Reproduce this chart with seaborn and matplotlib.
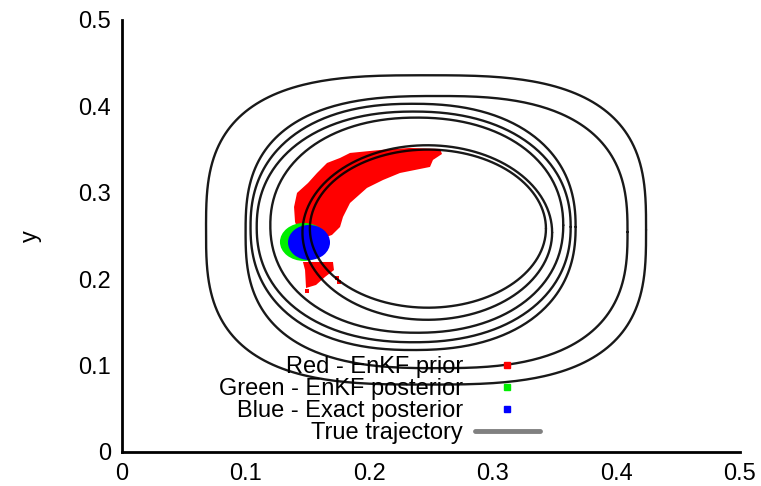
import numpy as np
import pandas as pd
import matplotlib
matplotlib.use("Agg")
import matplotlib.pyplot as plt
from matplotlib.patches import Ellipse
from matplotlib.lines import Line2D
import seaborn as sns

# ---- data ----
# true trajectory: one entry per loop (extents in data units, roundness power)
loop_left   = [0.068, 0.100, 0.104, 0.109, 0.120, 0.146, 0.152]
loop_right  = [0.424, 0.409, 0.367, 0.363, 0.357, 0.348, 0.343]
loop_top    = [0.436, 0.412, 0.403, 0.394, 0.387, 0.355, 0.350]
loop_bottom = [0.078, 0.097, 0.118, 0.127, 0.138, 0.153, 0.167]
loop_power  = [3.0, 2.7, 2.3, 2.2, 2.15, 2.0, 2.0]

# EnKF prior ensemble cloud (outline of the red crescent)
prior_x = [0.1400, 0.1392, 0.1416, 0.1505, 0.1578, 0.1659, 0.1764, 0.1845,
           0.2087, 0.2330, 0.2573, 0.2589, 0.2516, 0.2492, 0.2249, 0.2112,
           0.1982, 0.1845, 0.1788, 0.1764, 0.1699, 0.1586, 0.1440]
prior_y = [0.2662, 0.2836, 0.2998, 0.3113, 0.3229, 0.3345, 0.3403, 0.3461,
           0.3495, 0.3519, 0.3507, 0.3449, 0.3380, 0.3299, 0.3229, 0.3148,
           0.3056, 0.2882, 0.2720, 0.2604, 0.2512, 0.2454, 0.2512]
prior_tail_x = [0.1464, 0.1707, 0.1715, 0.1642, 0.1570, 0.1489, 0.1481]
prior_tail_y = [0.2199, 0.2199, 0.2106, 0.2025, 0.1933, 0.1898, 0.2106]
prior_speck_x = [0.1740, 0.1756, 0.1500]
prior_speck_y = [0.2014, 0.1968, 0.1860]

# EnKF posterior and exact posterior clouds (centre, width, height)
green_cloud = [0.1472, 0.2431, 0.0388, 0.0440]
blue_cloud  = [0.1513, 0.2425, 0.0340, 0.0405]

x_ticks = [0, 0.1, 0.2, 0.3, 0.4, 0.5]
y_ticks = [0, 0.1, 0.2, 0.3, 0.4, 0.5]
x_tick_labels = ["0", "0.1", "0.2", "0.3", "0.4", "0.5"]
y_tick_labels = ["0", "0.1", "0.2", "0.3", "0.4", "0.5"]
legend_labels = ["Red - EnKF prior", "Green - EnKF posterior",
                 "Blue - Exact posterior", "True trajectory"]

# ---- build trajectory table ----
t = np.linspace(0, 2 * np.pi, 400)
rows = []
for i, (l, r, tp, b, p) in enumerate(zip(loop_left, loop_right, loop_top,
                                          loop_bottom, loop_power)):
    cx, cy = (l + r) / 2, (tp + b) / 2
    rx, ry = (r - l) / 2, (tp - b) / 2
    c, s = np.cos(t), np.sin(t)
    xs = cx + rx * np.sign(c) * np.abs(c) ** (2.0 / p)
    ys = cy + ry * np.sign(s) * np.abs(s) ** (2.0 / p)
    rows.append(pd.DataFrame({"x": xs, "y": ys, "loop": i}))
traj = pd.concat(rows, ignore_index=True)

# ---- plot ----
sns.set_theme(style="white")
plt.rcParams["font.family"] = ["Liberation Sans", "DejaVu Sans"]
plt.rcParams["text.color"] = "black"

fig = plt.figure(figsize=(7.61, 4.86), dpi=100)
ax = fig.add_axes([0.1603, 0.0700, 0.8121, 0.8889])

ax.fill(prior_x, prior_y, color="#ff0000", lw=0, zorder=2)
ax.fill(prior_tail_x, prior_tail_y, color="#ff0000", lw=0, zorder=2)
ax.scatter(prior_speck_x, prior_speck_y, color="#ff0000", marker="s", s=12, lw=0, zorder=2)
ax.add_patch(Ellipse((green_cloud[0], green_cloud[1]), green_cloud[2], green_cloud[3],
                     color="#00ee00", lw=0, zorder=2))
ax.add_patch(Ellipse((blue_cloud[0], blue_cloud[1]), blue_cloud[2], blue_cloud[3],
                     color="#0000ff", lw=0, zorder=2))

sns.lineplot(data=traj, x="x", y="y", units="loop", estimator=None, sort=False,
             color="black", lw=1.7, alpha=0.9, ax=ax, legend=False, zorder=3)

ax.set_xlim(0, 0.5)
ax.set_ylim(0, 0.5)
ax.set_xticks(x_ticks)
ax.set_xticklabels(x_tick_labels)
ax.set_yticks(y_ticks)
ax.set_yticklabels(y_tick_labels)
ax.set_xlabel("")
ax.set_ylabel("y", fontsize=17, labelpad=26, color="black")

for side in ["top", "right"]:
    ax.spines[side].set_visible(False)
for side in ["left", "bottom"]:
    ax.spines[side].set_color("black")
    ax.spines[side].set_linewidth(2.0)
ax.tick_params(direction="in", length=6, width=2, labelsize=17, pad=8,
               colors="black")

handles = [
    Line2D([], [], marker="s", color="#ff0000", linestyle="none", markersize=4),
    Line2D([], [], marker="s", color="#00ee00", linestyle="none", markersize=4),
    Line2D([], [], marker="s", color="#0000ff", linestyle="none", markersize=4),
    Line2D([], [], color="#808080", lw=3.5),
]
leg = ax.legend(handles, legend_labels, loc="lower right", bbox_to_anchor=(0.676, 0.019),
                frameon=False, markerfirst=False, fontsize=17, borderpad=0,
                borderaxespad=0, handlelength=2.75, handletextpad=0.5,
                labelspacing=0.0)
for txt in leg.get_texts():
    txt.set_color("black")

fig.savefig("out.png", dpi=100)
